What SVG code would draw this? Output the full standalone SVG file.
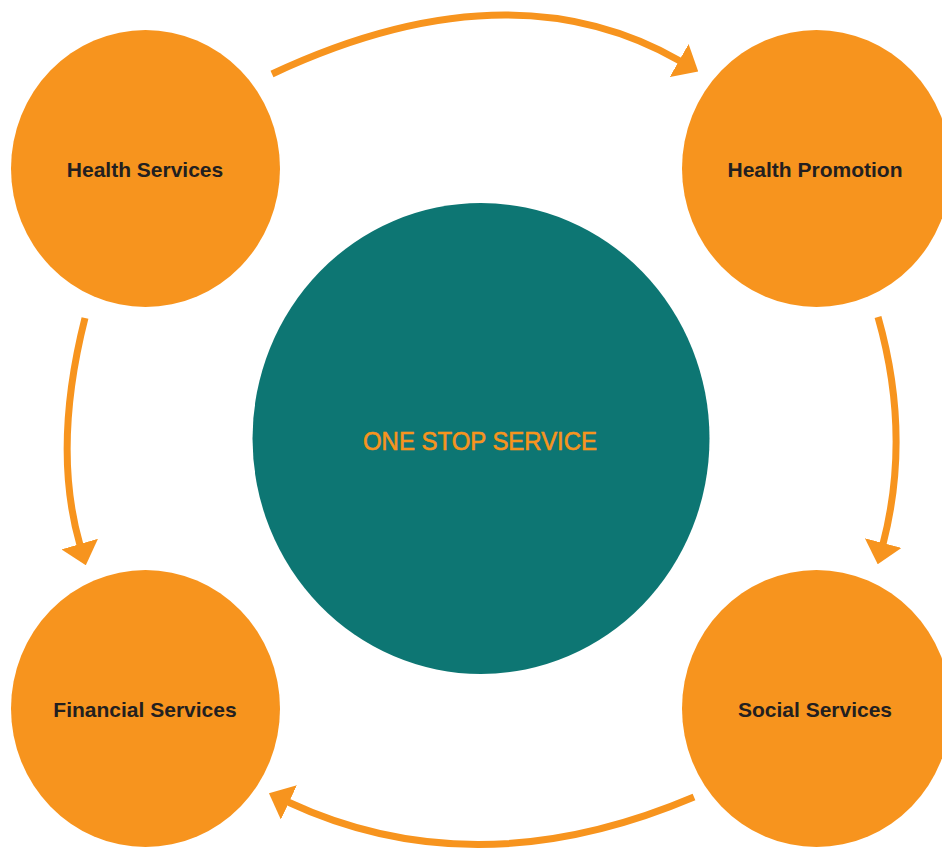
<svg xmlns="http://www.w3.org/2000/svg" width="942" height="851" viewBox="0 0 942 851">
  <style>
    .node { fill: #F7941E; }
    .hub { fill: #0D7673; }
    .label { font-family: "Liberation Sans", Arial, sans-serif; font-weight: bold; font-size: 21px; fill: #231F20; text-anchor: middle; }
    .hubLabel { font-family: "Liberation Sans", Arial, sans-serif; font-size: 25px; fill: #F7941E; stroke: #F7941E; stroke-width: 0.6; text-anchor: middle; }
    .conn { fill: none; stroke: #F7941E; stroke-width: 7; }
  </style>
  <defs>
    <marker id="arrow" markerUnits="userSpaceOnUse" viewBox="0 0 22 38" markerWidth="22" markerHeight="38" refX="1" refY="19" orient="auto">
      <path d="M0,0 L22,19 L0,38 Z" fill="#F7941E"/>
    </marker>
  </defs>
  <rect width="942" height="851" fill="#FFFFFF"/>

  <g id="connectors">
    <path class="conn" d="M272,74 Q509,-37 680,61" marker-end="url(#arrow)"/>
    <path class="conn" d="M878,317 Q911.5,434.5 883,544" marker-end="url(#arrow)"/>
    <path class="conn" d="M694,797 Q476,889.5 288,802" marker-end="url(#arrow)"/>
    <path class="conn" d="M85,318 Q52,448 80,545" marker-end="url(#arrow)"/>
  </g>

  <g id="one-stop-service">
    <ellipse class="hub" cx="481" cy="438.5" rx="228.5" ry="235.5"/>
    <text class="hubLabel" x="480" y="450" textLength="234" lengthAdjust="spacingAndGlyphs">ONE STOP SERVICE</text>
  </g>

  <g id="health-services">
    <ellipse class="node" cx="145.5" cy="168.5" rx="134.5" ry="138.5"/>
    <text class="label" x="145" y="177">Health Services</text>
  </g>

  <g id="health-promotion">
    <ellipse class="node" cx="816.5" cy="168.5" rx="134.5" ry="138.5"/>
    <text class="label" x="815" y="177">Health Promotion</text>
  </g>

  <g id="financial-services">
    <ellipse class="node" cx="145.5" cy="708.5" rx="134.5" ry="138.5"/>
    <text class="label" x="145" y="716.5">Financial Services</text>
  </g>

  <g id="social-services">
    <ellipse class="node" cx="816.5" cy="708.5" rx="134.5" ry="138.5"/>
    <text class="label" x="815" y="716.5">Social Services</text>
  </g>
</svg>
